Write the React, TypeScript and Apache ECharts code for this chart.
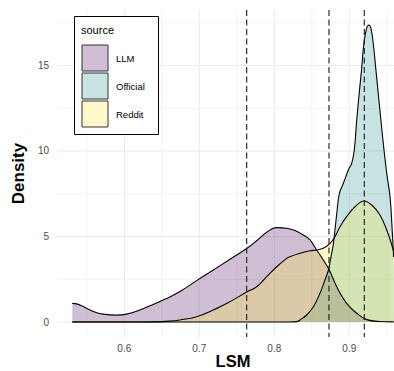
import React, { useEffect, useRef } from "react";
import * as echarts from "echarts";

const seriesNames = ["LLM", "Official", "Reddit"];
const seriesColors = ["#440154", "#21908C", "#FDE725"];

const llmX = [0.5307, 0.5365, 0.5453, 0.5587, 0.572, 0.5899, 0.6032, 0.6209, 0.6387, 0.6565, 0.6743, 0.6965, 0.7187, 0.7409, 0.7632, 0.7765, 0.7899, 0.8032, 0.8165, 0.8276, 0.8383, 0.8476, 0.8565, 0.8653, 0.8733, 0.8832, 0.8965, 0.9099, 0.9232, 0.9409, 0.9591];
const llmY = [1.09, 1.06, 0.9, 0.62, 0.46, 0.4, 0.46, 0.7, 1.03, 1.37, 1.78, 2.42, 3.04, 3.67, 4.3, 4.75, 5.25, 5.52, 5.48, 5.35, 5.1, 4.8, 4.21, 3.63, 3.04, 2.06, 1.09, 0.51, 0.14, 0.03, 0.01];

const officialX = [0.5307, 0.7, 0.8, 0.82, 0.8299, 0.8343, 0.8432, 0.8521, 0.8609, 0.8676, 0.8721, 0.8765, 0.8787, 0.8832, 0.8867, 0.8921, 0.8987, 0.9032, 0.9067, 0.9099, 0.9132, 0.9163, 0.9195, 0.9231, 0.9261, 0.9288, 0.9319, 0.9355, 0.9399, 0.9453, 0.9499, 0.9543, 0.9569, 0.9591];
const officialY = [0, 0, 0, 0, 0.02, 0.12, 0.41, 0.89, 1.68, 2.46, 3.04, 4.02, 4.55, 6.3, 7.5, 8.11, 8.89, 9.28, 10.06, 11.81, 13.37, 14.74, 16.3, 17.18, 17.37, 17.18, 16.3, 14.74, 12.79, 10.45, 8.7, 7.33, 5.6, 3.8];

const redditX = [0.5307, 0.6, 0.64, 0.66, 0.6743, 0.6965, 0.7187, 0.7409, 0.7632, 0.7765, 0.7899, 0.8032, 0.8165, 0.8209, 0.8343, 0.8476, 0.8565, 0.8653, 0.8743, 0.8809, 0.8876, 0.8965, 0.9076, 0.9196, 0.9299, 0.9409, 0.9499, 0.9591];
const redditY = [0, 0, 0.01, 0.05, 0.12, 0.31, 0.7, 1.19, 1.75, 2.06, 2.65, 3.23, 3.72, 3.82, 4.02, 4.17, 4.21, 4.31, 4.6, 4.99, 5.57, 6.16, 6.74, 7.08, 6.84, 6.26, 5.38, 4.15];

const xTickValues = [0.6, 0.7, 0.8, 0.9];
const xMinorValues = [0.55, 0.65, 0.75, 0.85, 0.95];
const yTickValues = [0, 5, 10, 15];
const yMinorValues = [2.5, 7.5, 12.5, 17.5];
const refLines = [0.7632, 0.8729, 0.92];
const xTitle = "LSM";
const yTitle = "Density";

const X_MIN = 0.5103;
const X_MAX = 0.9796;
const Y_MIN = -0.877;
const Y_MAX = 18.245;

const FONT = "Liberation Sans, Arial, Helvetica, sans-serif";

function rgba(hex: string, a: number) {
  const n = parseInt(hex.slice(1), 16);
  return `rgba(${(n >> 16) & 255},${(n >> 8) & 255},${n & 255},${a})`;
}

export default function App() {
  const ref = useRef<HTMLDivElement>(null);
  useEffect(() => {
    const chart = echarts.init(ref.current!, null, { renderer: "svg" });
    const xs = [llmX, officialX, redditX];
    const ys = [llmY, officialY, redditY];

    const densitySeries = seriesNames.map((name, i) => ({
      name,
      type: "line",
      data: xs[i].map((x, j) => [x, ys[i][j]]),
      smooth: 0.4,
      symbol: "none",
      z: 2,
      lineStyle: { color: "#000", width: 1.1 },
      areaStyle: { color: seriesColors[i], opacity: 0.25 },
      silent: true,
    }));

    const graphics: any[] = [
      {
        type: "rect",
        shape: { x: 74.5, y: 16.5, width: 84, height: 118 },
        style: { fill: "#fff", stroke: "#000", lineWidth: 1 },
        z: 100,
      },
      {
        type: "text",
        x: 81,
        y: 30,
        style: { text: "source", fontSize: 11, fontFamily: FONT, fill: "#000", verticalAlign: "middle" },
        z: 101,
      },
      {
        type: "text",
        x: 233,
        y: 361,
        style: {
          text: xTitle,
          fontSize: 16.5,
          fontWeight: "bold",
          fontFamily: FONT,
          fill: "#000",
          align: "center",
          verticalAlign: "middle",
        },
        z: 101,
      },
    ];
    seriesNames.forEach((name, i) => {
      graphics.push({
        type: "rect",
        shape: { x: 82, y: 45 + 28 * i, width: 26, height: 26 },
        style: { fill: rgba(seriesColors[i], 0.25), stroke: "#333", lineWidth: 1 },
        z: 101,
      });
      graphics.push({
        type: "text",
        x: 116,
        y: 58 + 28 * i,
        style: { text: name, fontSize: 9.5, fontFamily: FONT, fill: "#000", verticalAlign: "middle" },
        z: 101,
      });
    });

    chart.setOption({
      animation: false,
      backgroundColor: "#fff",
      textStyle: { fontFamily: FONT },
      grid: { left: 57, right: -15, top: 10, bottom: 34, outerBoundsMode: "none", containLabel: false },
      xAxis: {
        type: "value",
        min: X_MIN,
        max: X_MAX,
        axisLine: { show: false },
        axisTick: { show: false },
        splitLine: { show: false },
        axisLabel: { customValues: xTickValues, color: "#4d4d4d", fontSize: 10, margin: 6, fontFamily: FONT },
      },
      yAxis: {
        type: "value",
        min: Y_MIN,
        max: Y_MAX,
        name: yTitle,
        nameLocation: "middle",
        nameGap: 26,
        nameTextStyle: { fontSize: 17, fontWeight: "bold", color: "#000", fontFamily: FONT },
        axisLine: { show: false },
        axisTick: { show: false },
        splitLine: { show: false },
        axisLabel: { customValues: yTickValues, color: "#4d4d4d", fontSize: 10, margin: 8, fontFamily: FONT },
      },
      graphic: graphics,
      series: [
        {
          type: "custom",
          silent: true,
          z: 0,
          data: yTickValues.map((v) => [v, 1]).concat(yMinorValues.map((v) => [v, 0])),
          renderItem: (params: any, api: any) => {
            const cs = params.coordSys;
            const y = api.coord([X_MIN, api.value(0)])[1];
            return {
              type: "line",
              shape: { x1: cs.x, y1: y, x2: cs.x + cs.width, y2: y },
              style: { stroke: "#ebebeb", lineWidth: api.value(1) ? 1 : 0.6 },
            };
          },
        },
        {
          type: "custom",
          silent: true,
          z: 0,
          data: xTickValues.map((v) => [v, 1]).concat(xMinorValues.map((v) => [v, 0])),
          renderItem: (params: any, api: any) => {
            const cs = params.coordSys;
            const x = api.coord([api.value(0), 0])[0];
            return {
              type: "line",
              shape: { x1: x, y1: cs.y, x2: x, y2: cs.y + cs.height },
              style: { stroke: "#ebebeb", lineWidth: api.value(1) ? 1 : 0.6 },
            };
          },
        },
        ...densitySeries,
        {
          type: "custom",
          silent: true,
          z: 10,
          data: refLines.map((v) => [v, 0]),
          renderItem: (params: any, api: any) => {
            const cs = params.coordSys;
            const x = api.coord([api.value(0), 0])[0];
            return {
              type: "line",
              shape: { x1: x, y1: cs.y, x2: x, y2: cs.y + cs.height },
              style: { stroke: "#1a1a1a", lineWidth: 1.1, lineDash: [6, 3.5] },
            };
          },
        },
      ],
    });
    return () => chart.dispose();
  }, []);
  return <div ref={ref} style={{ position: "fixed", left: 0, top: 0, width: 394, height: 371 }} />;
}
